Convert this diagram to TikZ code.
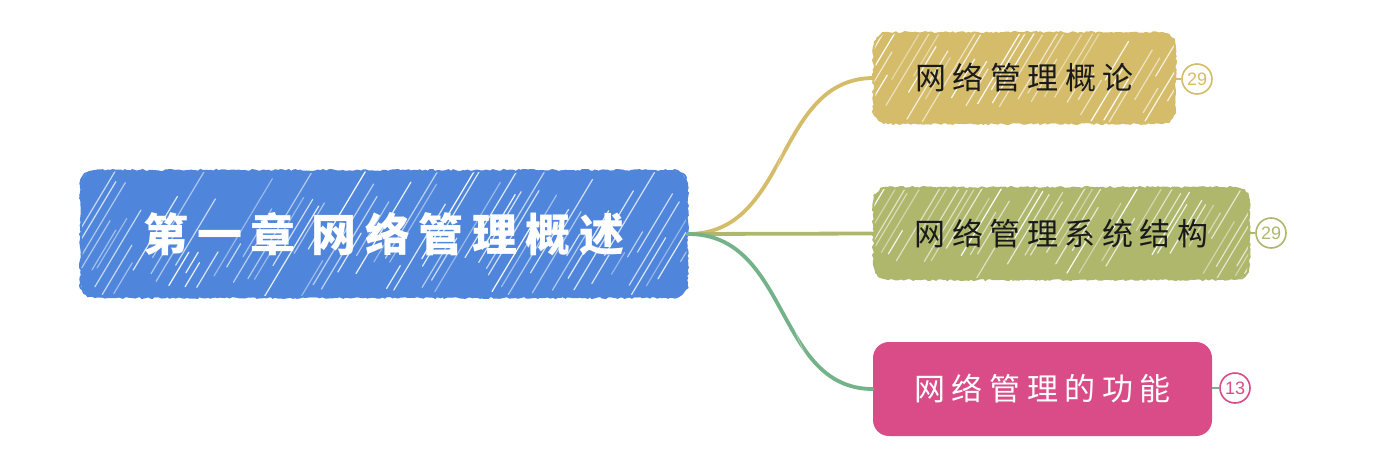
\documentclass[tikz,border=0pt]{standalone}
\usepackage{fontspec}
\newfontfamily\cjk{Noto Sans CJK SC}
\newfontfamily\numfont{Liberation Sans}
\usetikzlibrary{decorations.pathmorphing,calc}
\definecolor{cblue}{HTML}{4F86DB}
\definecolor{cgold}{HTML}{D5BC6A}
\definecolor{colive}{HTML}{AEB76C}
\definecolor{cpink}{HTML}{D94C87}
\definecolor{cgreen}{HTML}{74B28A}
\definecolor{ctext}{HTML}{1A1A1A}
\tikzset{
  hatch/.style={path picture={
    \pgfmathsetseed{#1}
    \foreach \k in {0,...,90}{
      \pgfmathsetmacro\xs{-80+\k*9+rand*3}
      \pgfmathsetmacro\st{rnd*50}
      \pgfmathsetmacro\ln{20+rnd*90}
      \pgfmathsetmacro\op{0.4+rnd*0.6}
      \draw[white,line width=1.2pt,opacity=\op,line cap=round]
        ($(path picture bounding box.south west)+(\xs pt+0.6*\st pt,\st pt)$)
        -- ++(0.6*\ln pt,\ln pt);
    }}},
  sketchbox/.style={fill=#1,rounded corners=14pt,inner sep=0pt,
    postaction={draw=#1,line width=2pt,sharp corners,decorate,
      decoration={random steps,segment length=2.5pt,amplitude=1pt}}},
  smoothbox/.style={fill=#1,rounded corners=16pt,inner sep=0pt},
  conn/.style={line width=3.8pt,line cap=round,#1},
  strand/.style={white,line width=0.5pt,opacity=0.55},
  badge/.style={circle,draw=#1,line width=1.6pt,fill=white,text=#1,
    minimum size=30pt,inner sep=0pt,font=\numfont\fontsize{18}{18}\selectfont},
  blink/.style={line width=2pt,#1},
}
\begin{document}
\begin{tikzpicture}[x=1pt,y=-1pt]
\useasboundingbox (0,0) rectangle (1389,466);
\coordinate (o) at (688,234);
% boxes
\node[sketchbox=cblue,hatch=11,minimum width=606pt,minimum height=126pt,
  text=white,font=\cjk\bfseries\fontsize{45}{45}\selectfont] (c) at (384,234)
  {第\kern8.5pt 一\kern8.5pt 章\kern16pt 网\kern8.5pt 络\kern8.5pt 管\kern8.5pt 理\kern8.5pt 概\kern8.5pt 述};
\node[sketchbox=cgold,hatch=23,minimum width=301pt,minimum height=90pt,
  text=ctext,font=\cjk\fontsize{31}{31}\selectfont] (b1) at (1024.5,78)
  {网\kern6.5pt 络\kern6.5pt 管\kern6.5pt 理\kern6.5pt 概\kern6.5pt 论};
\node[sketchbox=colive,hatch=37,minimum width=375pt,minimum height=91pt,
  text=ctext,font=\cjk\fontsize{31}{31}\selectfont] (b2) at (1061.5,233.5)
  {网\kern6.5pt 络\kern6.5pt 管\kern6.5pt 理\kern6.5pt 系\kern6.5pt 统\kern6.5pt 结\kern6.5pt 构};
\node[smoothbox=cpink,minimum width=339pt,minimum height=94pt,
  text=white,font=\cjk\fontsize{31}{31}\selectfont] (b3) at (1042.5,389)
  {网\kern6.5pt 络\kern6.5pt 管\kern6.5pt 理\kern6.5pt 的\kern6.5pt 功\kern6.5pt 能};
% connector curves
\draw[conn=cgold] (o) .. controls (790,234) and (775,78) .. (b1.west);
\draw[strand] (748,224) .. controls (785,200) and (775,100) .. (830,84);
\draw[conn=colive] (o) -- (b2.west);
\draw[conn=cgreen] (o) .. controls (790,234) and (775,389) .. (b3.west);
\draw[strand] (760,250) .. controls (790,280) and (790,360) .. (830,382);
% badges
\node[badge=cgold] (n1) at (1197,79) {29};
\node[badge=colive] (n2) at (1271,233) {29};
\node[badge=cpink] (n3) at (1235,388) {13};
\draw[blink=cgold] (b1.east |- n1) -- (n1.west);
\draw[blink=colive] (b2.east |- n2) -- (n2.west);
\draw[blink=cgreen] (b3.east |- n3) -- (n3.west);
\end{tikzpicture}
\end{document}
